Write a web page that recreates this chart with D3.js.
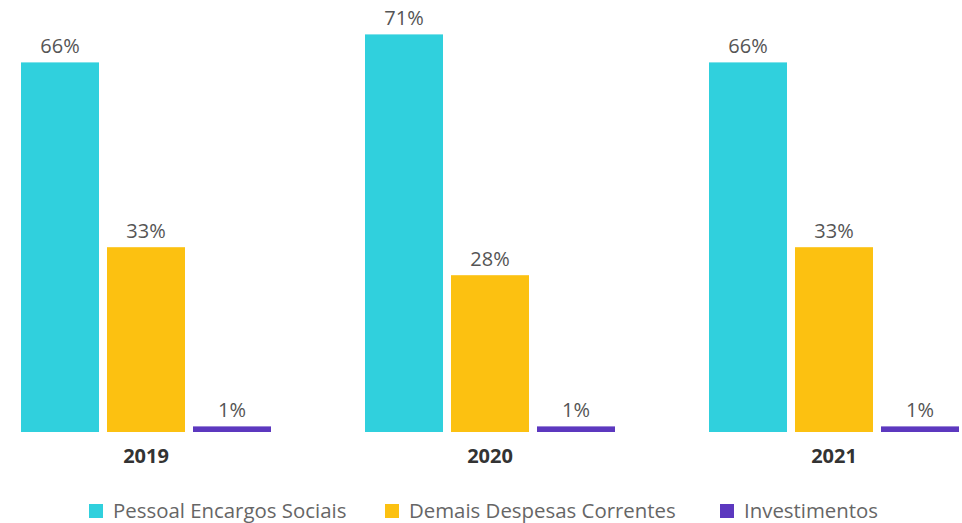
<!DOCTYPE html>
<html><head><meta charset="utf-8">
<script src="https://cdn.jsdelivr.net/npm/d3@7"></script>
<style>body{margin:0;background:#fff;} svg{display:block;font-family:"Open Sans","Noto Sans",sans-serif;}</style>
</head><body>
<svg id="c" width="962" height="523"></svg>
<script>
const years = ["2019", "2020", "2021"];
const seriesNames = ["Pessoal Encargos Sociais", "Demais Despesas Correntes", "Investimentos"];
const pessoal = [66, 71, 66];
const demais = [33, 28, 33];
const investimentos = [1, 1, 1];
const colors = ["#30d0dd", "#fcc111", "#5c38bf"];

const seriesValues = [pessoal, demais, investimentos];
const svg = d3.select("#c");
const x0 = d3.scaleBand().domain(years).range([21, 959]).paddingInner(94/344).paddingOuter(0);
const x1 = d3.scaleBand().domain(seriesNames).range([0, x0.bandwidth()]).paddingInner(8/86).paddingOuter(0);
const y = d3.scaleLinear().domain([0, 71]).range([432, 34.4]);

const groups = svg.selectAll("g.grp").data(years).join("g")
  .attr("transform", d => `translate(${x0(d)},0)`);

groups.each(function(yr, i) {
  const g = d3.select(this);
  const rows = seriesNames.map((s, k) => ({s, v: seriesValues[k][i], c: colors[k]}));
  g.selectAll("rect").data(rows).join("rect")
    .attr("x", d => x1(d.s)).attr("width", x1.bandwidth())
    .attr("y", d => y(d.v)).attr("height", d => y(0) - y(d.v))
    .attr("fill", d => d.c);
  g.selectAll("text.val").data(rows).join("text").attr("class", "val")
    .attr("x", d => x1(d.s) + x1.bandwidth()/2).attr("y", d => y(d.v) - 9)
    .attr("text-anchor", "middle").attr("font-size", 20).attr("fill", "#555")
    .text(d => d.v + "%");
});

const xAxis = svg.append("g").attr("transform", "translate(0,432)")
  .call(d3.axisBottom(x0).tickSize(0).tickPadding(17));
xAxis.select(".domain").remove();
xAxis.selectAll("text").attr("font-size", 20).attr("font-weight", "bold")
  .attr("fill", "#333").attr("font-family", "'Open Sans','Noto Sans',sans-serif");

const legX = [89, 385, 720];
const leg = svg.selectAll("g.leg").data(seriesNames).join("g")
  .attr("transform", (d, i) => `translate(${legX[i]},504)`);
leg.append("rect").attr("width", 14).attr("height", 14).attr("fill", (d, i) => colors[i]);
leg.append("text").attr("x", 24).attr("y", 14).attr("font-size", 20.4).attr("fill", "#666").text(d => d);
</script>
</body></html>
